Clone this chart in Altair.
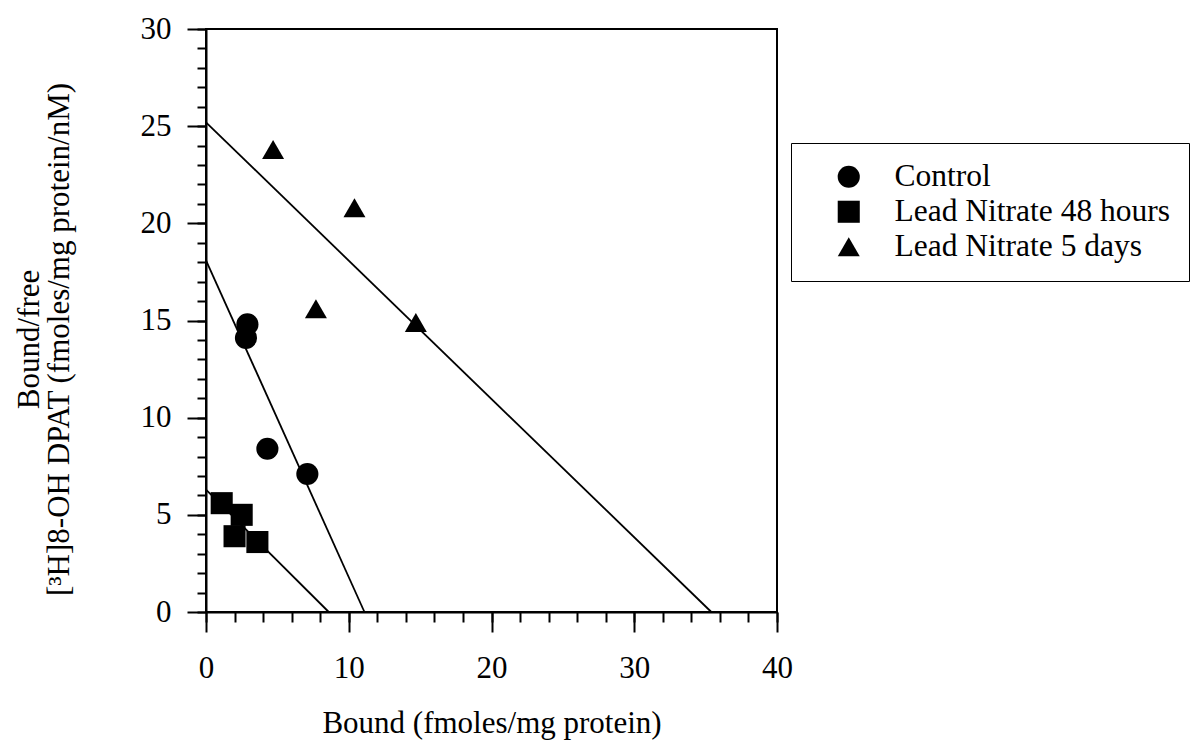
import altair as alt
import pandas as pd

# ---- data ----
series_names = ["Control", "Lead Nitrate 48 hours", "Lead Nitrate 5 days"]

control_x = [2.9, 2.8, 4.3, 7.1]
control_y = [14.8, 14.1, 8.4, 7.1]
lead48_x = [1.1, 2.5, 2.0, 3.6]
lead48_y = [5.6, 5.0, 3.9, 3.6]
lead5d_x = [4.7, 10.4, 7.7, 14.7]
lead5d_y = [23.8, 20.8, 15.6, 14.9]

# regression lines: y-intercept and x-intercept
line_y_intercepts = [18.1, 6.3, 25.2]
line_x_intercepts = [11.1, 8.6, 35.4]

x_major = [0, 10, 20, 30, 40]
x_minor = list(range(0, 41, 2))
y_major = [0, 5, 10, 15, 20, 25, 30]
y_minor = list(range(0, 31, 1))

FONT = "Liberation Serif"
FS = 31

rows = []
for name, xs, ys in zip(series_names, [control_x, lead48_x, lead5d_x], [control_y, lead48_y, lead5d_y]):
    for xv, yv in zip(xs, ys):
        rows.append({"series": name, "bound": xv, "ratio": yv})
points_df = pd.DataFrame(rows)

line_rows = []
for name, yi, xi in zip(series_names, line_y_intercepts, line_x_intercepts):
    line_rows.append({"series": name, "bound": 0.0, "ratio": yi, "o": 0})
    line_rows.append({"series": name, "bound": xi, "ratio": 0.0, "o": 1})
lines_df = pd.DataFrame(line_rows)

xscale = alt.Scale(domain=[0, 40], nice=False, zero=False)
yscale = alt.Scale(domain=[0, 30], nice=False, zero=False)

legend = alt.Legend(title=None)

points = alt.Chart(points_df).mark_point(filled=True, opacity=1, color="black").encode(
    x=alt.X("bound:Q", scale=xscale,
            axis=alt.Axis(values=x_major, tickSize=20, labelPadding=21, title="Bound (fmoles/mg protein)",
                          titleY=120, titleBaseline="alphabetic", grid=False, orient="bottom",
                          format="d")),
    y=alt.Y("ratio:Q", scale=yscale,
            axis=alt.Axis(values=y_major, tickSize=19, labelPadding=16, grid=False, orient="left",
                          title=["Bound/free", "[³H]8-OH DPAT (fmoles/mg protein/nM)"],
                          titleAngle=-90, titleX=-168, titleY=310, titleBaseline="alphabetic",
                          titleAlign="center", titleLineHeight=30, format="d")),
    shape=alt.Shape("series:N", scale=alt.Scale(domain=series_names, range=["circle", "square", "triangle-up"]),
                    legend=legend),
    size=alt.Size("series:N", scale=alt.Scale(domain=series_names, range=[490, 484, 690]), legend=legend),
)

lines = alt.Chart(lines_df).mark_line(color="black", strokeWidth=1.8).encode(
    x=alt.X("bound:Q", scale=xscale,
            axis=alt.Axis(values=x_minor, tickSize=10, labels=False, domain=False, title=None,
                          grid=False, orient="bottom")),
    y=alt.Y("ratio:Q", scale=yscale,
            axis=alt.Axis(values=y_minor, tickSize=9, labels=False, domain=False, title=None,
                          grid=False, orient="left")),
    detail="series:N",
    order="o:Q",
)

chart = alt.layer(lines, points).resolve_axis(x="independent", y="independent").properties(
    width=571, height=583,
    autosize=alt.AutoSizeParams(type="none"),
    padding={"left": 206, "top": 29, "right": 415, "bottom": 133},
    background="white",
).configure_view(
    stroke="black", strokeWidth=2
).configure_axis(
    labelFont=FONT, labelFontSize=FS, labelColor="black",
    titleFont=FONT, titleFontSize=FS, titleColor="black", titleFontWeight="normal",
    domainColor="black", domainWidth=2, tickColor="black", tickWidth=2,
    labelFlush=False, labelOverlap=False,
).configure_legend(
    orient="none", legendX=585, legendY=114,
    labelFont=FONT, labelFontSize=31.5, labelColor="black",
    strokeColor="black", padding=18, symbolOffset=24, labelOffset=30,
    rowPadding=2, symbolFillColor="black", symbolStrokeColor="black",
    labelLimit=500,
)

chart.save("out.html", embed_options={"renderer": "svg", "actions": False})
